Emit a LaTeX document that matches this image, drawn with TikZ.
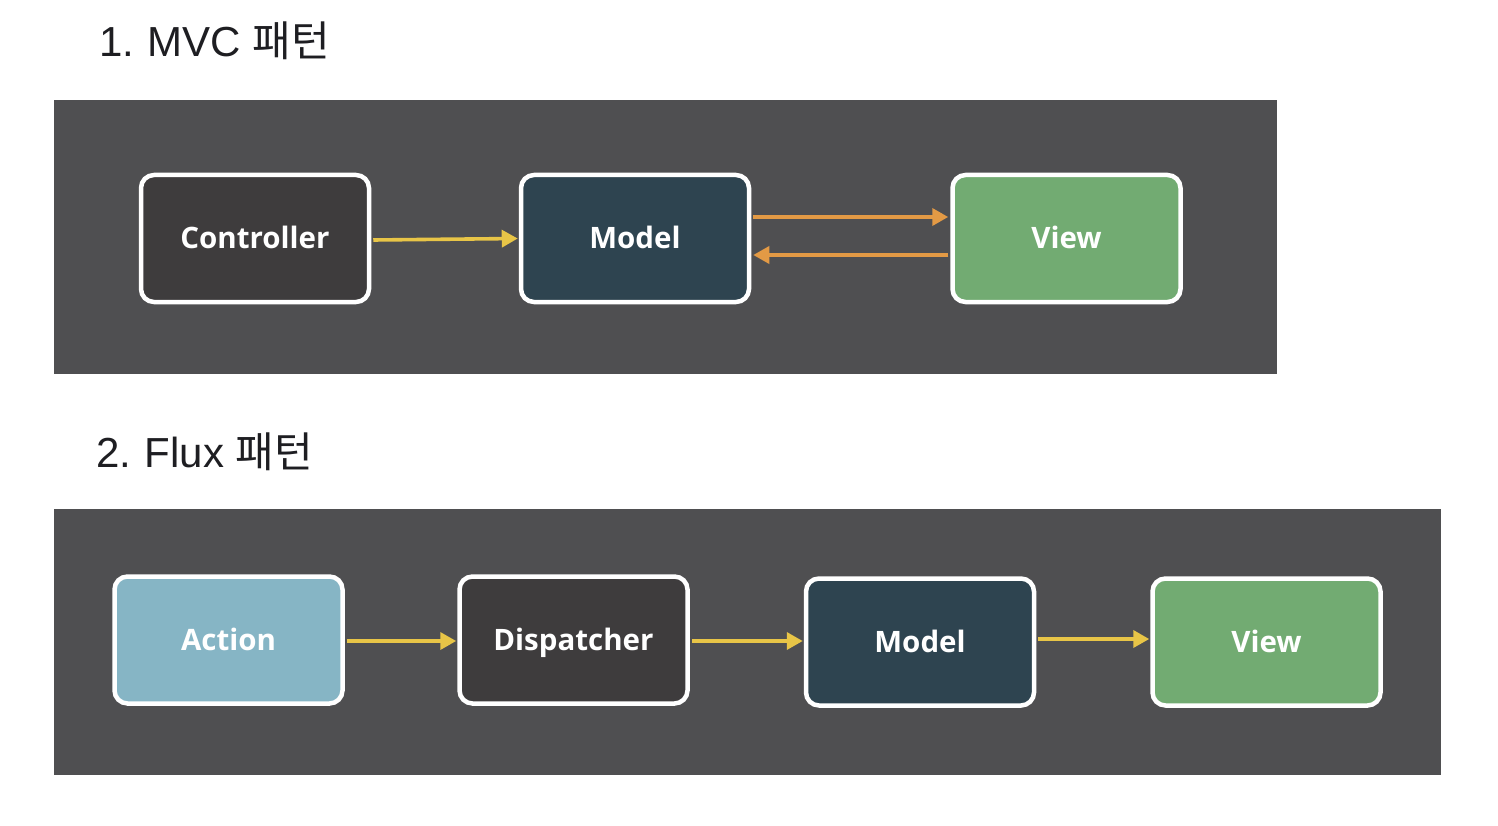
\documentclass[tikz,border=0pt]{standalone}
\usepackage{fontspec}
\usetikzlibrary{arrows.meta}
\newfontfamily\headfont{Liberation Sans}
\newfontfamily\hangulfont{Noto Sans CJK KR}
\newfontfamily\boxfont{Open Sans}
\definecolor{panel}{HTML}{4F4F51}
\definecolor{darkbox}{HTML}{3E3C3D}
\definecolor{modelbox}{HTML}{2E4450}
\definecolor{viewbox}{HTML}{72AB72}
\definecolor{actionbox}{HTML}{86B5C5}
\definecolor{yarrow}{HTML}{E8C547}
\definecolor{oarrow}{HTML}{E39A45}
\definecolor{headcol}{HTML}{1E1E22}
\begin{document}
\begin{tikzpicture}[x=1pt,y=-1pt,
  blk/.style={draw=white, line width=4.5pt, rounded corners=13pt,
    minimum width=228pt, minimum height=127pt, inner sep=0pt,
    text height=22pt, text depth=2pt,
    font=\boxfont\bfseries\fontsize{29.5}{34}\selectfont, text=white},
  yarr/.style={draw=yarrow, line width=3.6pt, -{Triangle[length=16pt,width=17pt]}},
  oarr/.style={draw=oarrow, line width=3.6pt, -{Triangle[length=16pt,width=17pt]}},
  head/.style={anchor=base west, inner sep=0pt, text=headcol,
    font=\headfont\fontsize{42}{48}\selectfont}]
\useasboundingbox (0,0) rectangle (1498,826);
\fill[white] (0,0) rectangle (1498,826);
% headings
\node[head] (h1) at (99,57) {1.\kern-2pt{} MVC {\hangulfont 패턴}};
\node[head] (h2) at (96,467) {2.\kern-2pt{} Flux {\hangulfont 패턴}};
% panels
\fill[panel] (54,100) rectangle (1277,374);
\fill[panel] (54,509) rectangle (1441,775);
% MVC
\node[blk, fill=darkbox] (ctrl) at (255,238.5) {Controller};
\node[blk, fill=modelbox] (m1) at (635,238.5) {Model};
\node[blk, fill=viewbox] (v1) at (1066.5,238.5) {View};
\draw[yarr] ([xshift=2pt,yshift=-1.5pt]ctrl.east) -- ([xshift=-1pt]m1.west);
\draw[oarr] ([yshift=21.5pt,xshift=2pt]m1.east) -- ([yshift=21.5pt,xshift=-2pt]v1.west);
\draw[oarr] ([yshift=-16.5pt,xshift=-2pt]v1.west) -- ([yshift=-16.5pt,xshift=2pt]m1.east);
% Flux
\node[blk, fill=actionbox] (act) at (228.5,640) {Action};
\node[blk, fill=darkbox] (disp) at (573.5,640) {Dispatcher};
\node[blk, fill=modelbox] (m2) at (920,642) {Model};
\node[blk, fill=viewbox] (v2) at (1266.5,642) {View};
\draw[yarr] ([xshift=2pt,yshift=-1pt]act.east) -- ([xshift=-1pt,yshift=-1pt]disp.west);
\draw[yarr] ([xshift=2pt,yshift=-1pt]disp.east) -- ([xshift=-1pt,yshift=1pt]m2.west);
\draw[yarr] ([xshift=2pt,yshift=3pt]m2.east) -- ([xshift=-1pt,yshift=3pt]v2.west);
\end{tikzpicture}
\end{document}
